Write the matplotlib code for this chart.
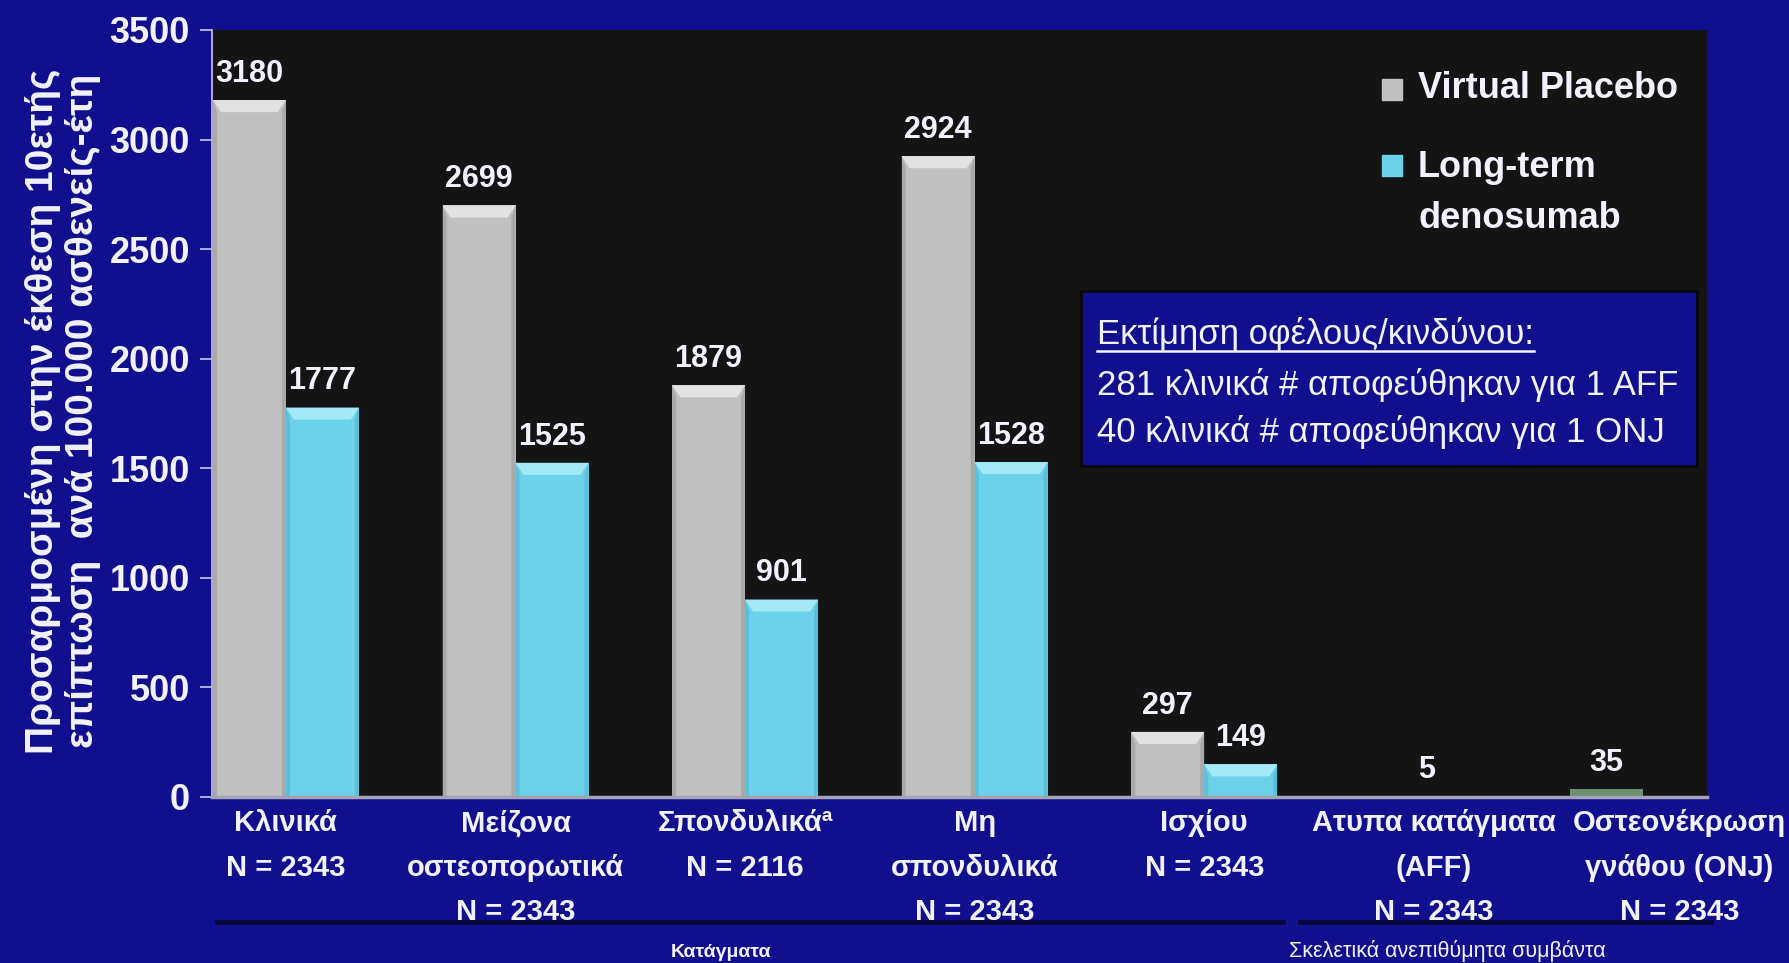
import numpy as np
import matplotlib
matplotlib.use('Agg')
import matplotlib.pyplot as plt
from matplotlib.patches import Rectangle

# Κατηγορίες και τιμές (επίπτωση ανά 100.000 ασθενείς-έτη)
categories = ['Κλινικά\nN = 2343', 'Μείζονα\nοστεοπορωτικά\nN = 2343',
              'Σπονδυλικάª\nN = 2116', 'Μη\nσπονδυλικά\nN = 2343',
              'Ισχίου\nN = 2343', 'Ατυπα κατάγματα\n(AFF)\nN = 2343',
              'Οστεονέκρωση\nγνάθου (ONJ)\nN = 2343']
placebo = [3180, 2699, 1879, 2924, 297]
denosumab = [1777, 1525, 901, 1528, 149]
adverse = [5, 35]
series_names = ['Virtual Placebo', 'Long-term\ndenosumab']
yticks = [0, 500, 1000, 1500, 2000, 2500, 3000, 3500]
ylabel_lines = ['Προσαρμοσμένη στην έκθεση 10ετής',
                'επίπτωση  ανά 100.000 ασθενείς-έτη']
note_title = 'Εκτίμηση οφέλους/κινδύνου:'
note_lines = ['281 κλινικά # αποφεύθηκαν για 1 AFF',
              '40 κλινικά # αποφεύθηκαν για 1 ONJ']
group_titles = ['Κατάγματα', 'Σκελετικά ανεπιθύμητα συμβάντα']

# θέσεις στον άξονα x
frac_x = np.arange(len(placebo))
ae_x = [4.97, 5.75]
tick_x = list(frac_x) + [5.0, 6.07]
width = 0.318

BG = '#110f8e'
PLOT_BG = '#141414'
GRAY, GRAY_HI, GRAY_LO = '#c0c0c0', '#e2e2e2', '#9a9a9a'
CYAN, CYAN_HI, CYAN_LO = '#6cd2ea', '#a4e9f8', '#4fb3cc'
AE_COLORS = ['#8e93a0', '#6d8f72']
TXT = '#f2f2ff'
FONT = 'Liberation Sans'

fig = plt.figure(figsize=(17.89, 9.63), dpi=100, facecolor=BG)
ax = fig.add_axes([0.1185, 0.1724, 0.8357, 0.7965])
ax.set_facecolor(PLOT_BG)


def bevel_bar(x, h, body, hi, lo):
    ax.bar(x, h, width, color=body, linewidth=0, zorder=2)
    band = min(55, h * 0.5)
    inset = 0.035
    l, r = x - width / 2, x + width / 2
    # lighter top edge (trapezoid)
    ax.fill([l, r, r - inset, l + inset], [h, h, h - band, h - band],
            color=hi, linewidth=0, zorder=3)
    # darker side edges
    ax.fill([l, l + inset * 0.5, l + inset * 0.5, l], [0, 0, h - band, h],
            color=lo, alpha=0.6, linewidth=0, zorder=3)
    ax.fill([r, r - inset * 0.5, r - inset * 0.5, r], [0, 0, h - band, h],
            color=lo, alpha=0.6, linewidth=0, zorder=3)


def value_label(x, v):
    ax.annotate(str(v), (x, v), xytext=(0, 13), textcoords='offset points',
                ha='center', va='baseline', color=TXT, fontsize=22,
                fontweight='bold', family=FONT, zorder=5)


for x, p, d in zip(frac_x, placebo, denosumab):
    bevel_bar(x - width / 2, p, GRAY, GRAY_HI, GRAY_LO)
    bevel_bar(x + width / 2, d, CYAN, CYAN_HI, CYAN_LO)
    value_label(x - width / 2, p)
    value_label(x + width / 2, d)

for x, v, c in zip(ae_x, adverse, AE_COLORS):
    ax.bar(x, v, width, color=c, linewidth=0, zorder=2)
    value_label(x, v)

ax.set_xlim(-0.322, 6.19)
ax.set_ylim(0, 3500)
ax.set_yticks(yticks)
ax.set_yticklabels([str(t) for t in yticks])
ax.set_xticks(tick_x)
ax.set_xticklabels(categories)

for s in ['top', 'right']:
    ax.spines[s].set_visible(False)
ax.spines['left'].set_color('#c8c8e8')
ax.spines['left'].set_linewidth(1.2)
ax.spines['bottom'].set_color('#a4a4b4')
ax.spines['bottom'].set_linewidth(2.5)
ax.spines['bottom'].set_zorder(6)

ax.tick_params(axis='y', direction='out', length=9, width=1.2, color='#c8c8e8',
               pad=7, labelsize=26, labelcolor=TXT)
ax.tick_params(axis='x', length=0, pad=9, labelsize=21, labelcolor=TXT)
for lbl in ax.get_yticklabels():
    lbl.set_family(FONT)
    lbl.set_fontweight('bold')
for lbl in ax.get_xticklabels():
    lbl.set_family(FONT)
    lbl.set_fontweight('bold')
    lbl.set_linespacing(1.75)

# τίτλος άξονα y σε δύο γραμμές
for xpos, line in zip([0.0240, 0.0462], ylabel_lines):
    fig.text(xpos, 0.573, line, rotation=90, ha='center', va='center',
             color=TXT, fontsize=28, fontweight='bold', family=FONT)

# υπόμνημα
legend_colors = [GRAY, CYAN]
square_y = [0.9087, 0.8097]
base_y = [0.9113, 0.8083]
for col, sy, by, name in zip(legend_colors, square_y, base_y, series_names):
    ax.add_patch(Rectangle((0.7826, sy), 0.0134, 0.027, transform=ax.transAxes,
                           color=col, zorder=6))
    for k, line in enumerate(name.split('\n')):
        ax.text(0.8067, by - k * 0.0664, line, transform=ax.transAxes,
                ha='left', va='baseline', color=TXT, fontsize=26,
                fontweight='bold', family=FONT, zorder=6)

# πλαίσιο εκτίμησης οφέλους/κινδύνου
ax.add_patch(Rectangle((0.5813, 0.4316), 0.412, 0.2281, transform=ax.transAxes,
                       facecolor=BG, edgecolor='#080808', linewidth=2, zorder=6))
title = ax.text(0.592, 0.5906, note_title, transform=ax.transAxes, ha='left',
                va='baseline', color=TXT, fontsize=25, family=FONT, zorder=7)
for yy, line in zip([0.5241, 0.4628], note_lines):
    ax.text(0.592, yy, line, transform=ax.transAxes, ha='left', va='baseline',
            color=TXT, fontsize=25, family=FONT, zorder=7)

fig.canvas.draw()
bb = title.get_window_extent().transformed(ax.transAxes.inverted())
ax.plot([bb.x0, bb.x1], [0.5815, 0.5815], transform=ax.transAxes,
        color=TXT, linewidth=1.8, zorder=7)

# γραμμές ομάδων και επικεφαλίδες στο κάτω μέρος
fig.add_artist(plt.Line2D([0.1213, 0.7172], [0.0426, 0.0426],
                          color='#06062e', linewidth=3.5, alpha=0.85))
fig.add_artist(plt.Line2D([0.7267, 0.9564], [0.0426, 0.0426],
                          color='#06062e', linewidth=3.5, alpha=0.85))
fig.text(0.403, 0.006, group_titles[0], ha='center', va='baseline',
         color=TXT, fontsize=14, fontweight='bold', family=FONT)
fig.text(0.7205, 0.006, group_titles[1], ha='left', va='baseline',
         color=TXT, fontsize=15.5, family=FONT)

fig.savefig('out.png', dpi=100, facecolor=BG)
